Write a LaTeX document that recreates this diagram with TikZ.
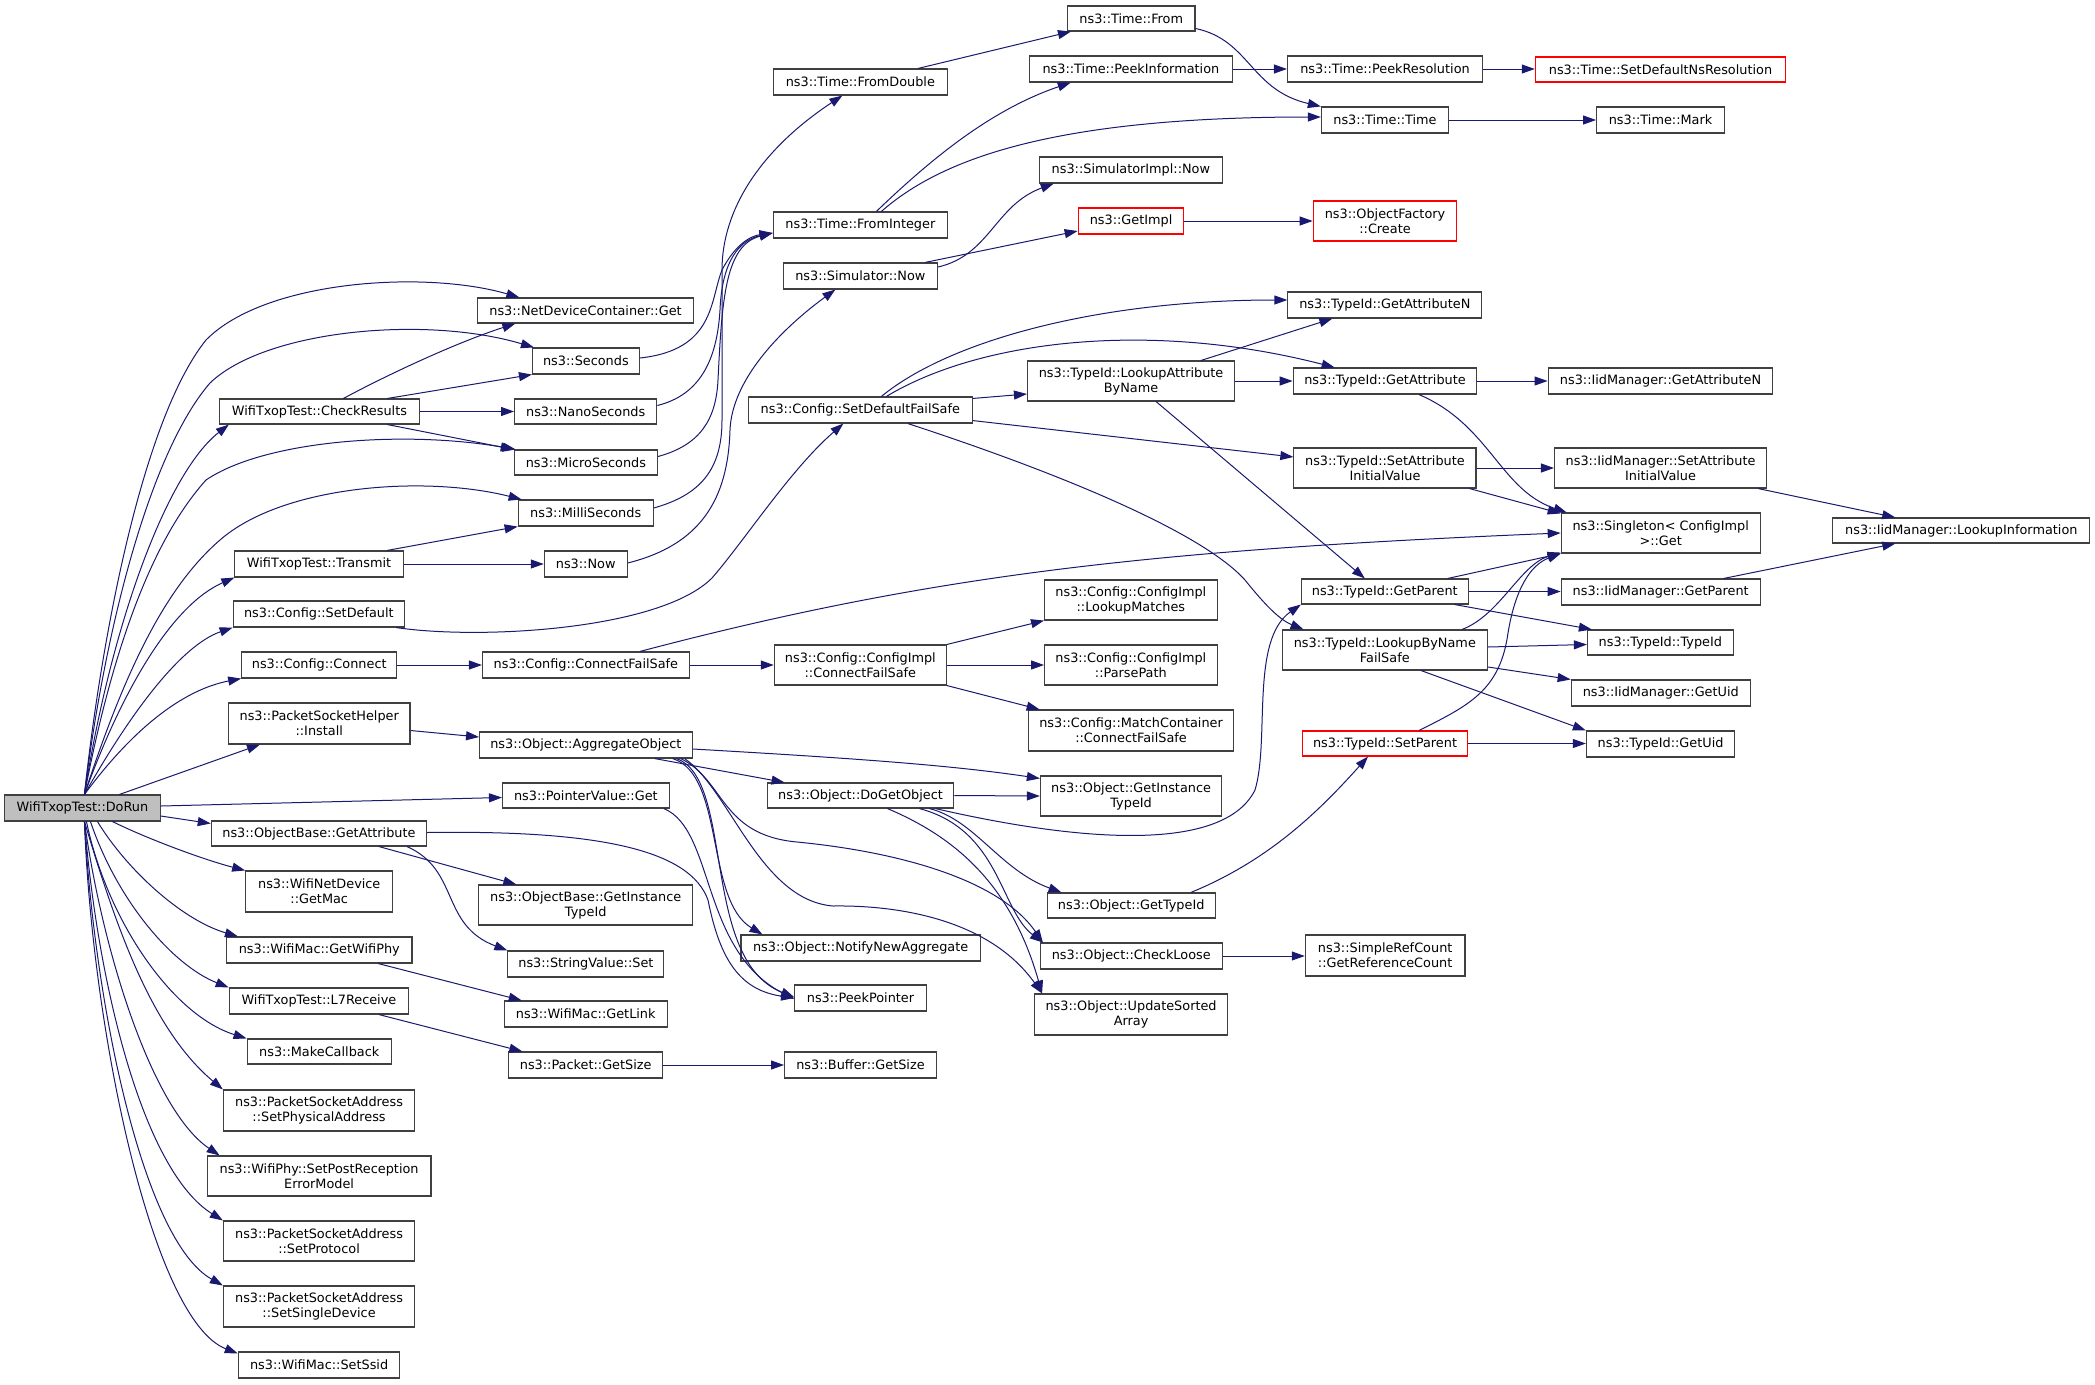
\documentclass[tikz,border=0pt]{standalone}
\usepackage{fontspec}
\setmainfont{DejaVu Sans}
\usetikzlibrary{arrows.meta}
\definecolor{edgec}{HTML}{191970}
\definecolor{nodeb}{HTML}{404040}
\definecolor{rootf}{HTML}{BFBFBF}
\newcommand\bx[7][]{\node[nbox,#1,minimum width={#5pt-#3pt},minimum height={#6pt-#4pt}] (#2) at ({(#3+#5)/2},{(#4+#6)/2}) {#7};}
\begin{document}
\begin{tikzpicture}[x=1pt,y=-1pt,
  nbox/.style={draw=nodeb,line width=1.1pt,fill=white,rectangle,inner sep=0pt,align=center,font=\fontsize{12.85}{15}\selectfont},
  rootbox/.style={fill=rootf},
  redbox/.style={draw=red},
  ce/.style={draw=edgec,line width=1pt,-{Triangle[length=13pt,width=9pt]}}]
\useasboundingbox[fill=white] (0,0) rectangle (2095,1384);
% ---------- nodes ----------
\bx[rootbox]{dorun}{4.7}{795}{160.2}{821}{WifiTxopTest::DoRun}
\bx{ndcget}{477.9}{298}{693.2}{323}{ns3::NetDeviceContainer::Get}
\bx{seconds}{532.5}{348}{639.3}{374}{ns3::Seconds}
\bx{ckr}{219.4}{399}{419.5}{424}{WifiTxopTest::CheckResults}
\bx{nano}{514.6}{399}{656.8}{424}{ns3::NanoSeconds}
\bx{micro}{514.3}{450}{657.5}{475}{ns3::MicroSeconds}
\bx{milli}{518.2}{500}{653.2}{526}{ns3::MilliSeconds}
\bx{transmit}{234.9}{551}{403.2}{577}{WifiTxopTest::Transmit}
\bx{now}{544.3}{551}{627.1}{577}{ns3::Now}
\bx{setdef}{233.2}{601}{404.6}{627}{ns3::Config::SetDefault}
\bx{connect}{241.7}{652}{396.8}{678}{ns3::Config::Connect}
\bx{confs}{482.5}{652}{689.3}{678}{ns3::Config::ConnectFailSafe}
\bx{install}{228.5}{703}{410}{744}{ns3::PacketSocketHelper\\::Install}
\bx{aggr}{479.6}{732}{692.1}{758}{ns3::Object::AggregateObject}
\bx{pvget}{502.5}{783}{669.3}{808}{ns3::PointerValue::Get}
\bx{obga}{211.3}{821}{426.6}{846}{ns3::ObjectBase::GetAttribute}
\bx{getmac}{245.7}{871}{392.8}{912}{ns3::WifiNetDevice\\::GetMac}
\bx{obgiti}{478.9}{885}{692.5}{925}{ns3::ObjectBase::GetInstance\\TypeId}
\bx{getwifiphy}{226.5}{937}{412}{963}{ns3::WifiMac::GetWifiPhy}
\bx{svset}{507.9}{951}{663.9}{977}{ns3::StringValue::Set}
\bx{l7}{229.2}{988}{408.6}{1014}{WifiTxopTest::L7Receive}
\bx{getlink}{504.3}{1001}{667.1}{1027}{ns3::WifiMac::GetLink}
\bx{mkcb}{247.1}{1039}{391.4}{1064}{ns3::MakeCallback}
\bx{pktsize}{508.9}{1052}{662.5}{1078}{ns3::Packet::GetSize}
\bx{bufsize}{784.6}{1052}{936.4}{1078}{ns3::Buffer::GetSize}
\bx{setphys}{223.4}{1090}{414.7}{1131}{ns3::PacketSocketAddress\\::SetPhysicalAddress}
\bx{setpost}{207.2}{1156}{431}{1196}{ns3::WifiPhy::SetPostReception\\ErrorModel}
\bx{setproto}{223.4}{1221}{414.7}{1261}{ns3::PacketSocketAddress\\::SetProtocol}
\bx{setsingle}{223.4}{1286}{414.7}{1327}{ns3::PacketSocketAddress\\::SetSingleDevice}
\bx{setssid}{238.3}{1352}{399.9}{1378}{ns3::WifiMac::SetSsid}
\bx{fromdouble}{773.2}{69}{947.5}{95}{ns3::Time::FromDouble}
\bx{fromint}{773.2}{212}{947.5}{238}{ns3::Time::FromInteger}
\bx{simnow}{783.2}{263}{937.5}{289}{ns3::Simulator::Now}
\bx{sdfs}{748.6}{397}{972.1}{423}{ns3::Config::SetDefaultFailSafe}
\bx{cicfs}{774.3}{645}{946.4}{685}{ns3::Config::ConfigImpl\\::ConnectFailSafe}
\bx{dgo}{767.1}{783}{953.9}{808}{ns3::Object::DoGetObject}
\bx{nna}{741}{935}{980.3}{961}{ns3::Object::NotifyNewAggregate}
\bx{peek}{794.6}{985}{926.4}{1011}{ns3::PeekPointer}
\bx{timefrom}{1067.5}{6}{1195}{31}{ns3::Time::From}
\bx{peekinfo}{1029.3}{56}{1232.5}{82}{ns3::Time::PeekInformation}
\bx{peekres}{1287.5}{56}{1482.5}{82}{ns3::Time::PeekResolution}
\bx[redbox]{setdefns}{1535.3}{57}{1785.7}{82}{ns3::Time::SetDefaultNsResolution}
\bx{timetime}{1321.4}{107}{1448.6}{133}{ns3::Time::Time}
\bx{mark}{1596.6}{107}{1724.4}{133}{ns3::Time::Mark}
\bx{simimpl}{1039.3}{157}{1222.5}{183}{ns3::SimulatorImpl::Now}
\bx[redbox]{getimpl}{1078.2}{208}{1183.9}{234}{ns3::GetImpl}
\bx[redbox]{ofcreate}{1313.2}{201}{1456.8}{241}{ns3::ObjectFactory\\::Create}
\bx{tgan}{1287.9}{292}{1481.8}{318}{ns3::TypeId::GetAttributeN}
\bx{lab}{1027.5}{361}{1234.6}{401}{ns3::TypeId::LookupAttribute\\ByName}
\bx{tga}{1293.2}{368}{1476.8}{394}{ns3::TypeId::GetAttribute}
\bx{iigan}{1548.1}{368}{1772.9}{394}{ns3::IidManager::GetAttributeN}
\bx{tsaiv}{1293.9}{448}{1476}{488}{ns3::TypeId::SetAttribute\\InitialValue}
\bx{isaiv}{1554.5}{448}{1766.6}{488}{ns3::IidManager::SetAttribute\\InitialValue}
\bx{single}{1561.2}{513}{1760.2}{553}{ns3::Singleton< ConfigImpl\\>::Get}
\bx{lookinfo}{1832.8}{518}{2089.8}{543}{ns3::IidManager::LookupInformation}
\bx{lm}{1044.6}{580}{1217.1}{620}{ns3::Config::ConfigImpl\\::LookupMatches}
\bx{tgp}{1301.4}{579}{1468.2}{604}{ns3::TypeId::GetParent}
\bx{igp}{1561.2}{579}{1760.2}{605}{ns3::IidManager::GetParent}
\bx{lbnfs}{1282.1}{630}{1487.5}{670}{ns3::TypeId::LookupByName\\FailSafe}
\bx{ttid}{1587.4}{630}{1733.3}{655}{ns3::TypeId::TypeId}
\bx{pp}{1044.6}{645}{1217.1}{685}{ns3::Config::ConfigImpl\\::ParsePath}
\bx{iguid}{1571.2}{680}{1750.3}{706}{ns3::IidManager::GetUid}
\bx{mccfs}{1028.2}{710}{1233.9}{751}{ns3::Config::MatchContainer\\::ConnectFailSafe}
\bx[redbox]{setparent}{1302.1}{731}{1467.9}{756}{ns3::TypeId::SetParent}
\bx{tguid}{1586.4}{731}{1734.7}{757}{ns3::TypeId::GetUid}
\bx{ogiti}{1040.4}{776}{1221.8}{816}{ns3::Object::GetInstance\\TypeId}
\bx{ogtid}{1047.1}{893}{1215.3}{918}{ns3::Object::GetTypeId}
\bx{cl}{1040.4}{943}{1222.1}{969}{ns3::Object::CheckLoose}
\bx{usa}{1034.6}{994}{1227.5}{1035}{ns3::Object::UpdateSorted\\Array}
\bx{grc}{1305.3}{935}{1465}{976}{ns3::SimpleRefCount\\::GetReferenceCount}
% ---------- edges from DoRun ----------
\draw[ce] ([xshift=2pt]dorun.north) .. controls (101,640) and (142,420) .. (206,340) .. controls (265,280) and (425,270) .. ([xshift=42pt]ndcget.north west);
\draw[ce] ([xshift=2pt]dorun.north) .. controls (106,620) and (152,450) .. (210,383) .. controls (265,330) and (425,315) .. ([xshift=2pt]seconds.north west);
\draw[ce] ([xshift=2pt]dorun.north) .. controls (112,620) and (168,472) .. ([xshift=10pt]ckr.south west);
\draw[ce] ([xshift=2pt]dorun.north) .. controls (112,650) and (152,540) .. (206,480) .. controls (265,440) and (405,430) .. ([xshift=2pt]micro.north west);
\draw[ce] ([xshift=2pt]dorun.north) .. controls (122,680) and (162,590) .. (220,540) .. controls (283,485) and (425,475) .. ([xshift=4pt]milli.north west);
\draw[ce] ([xshift=2pt]dorun.north) .. controls (122,690) and (172,605) .. (transmit.south west);
\draw[ce] ([xshift=2pt]dorun.north) .. controls (132,710) and (182,645) .. (setdef.south west);
\draw[ce] ([xshift=2pt]dorun.north) .. controls (132,730) and (182,690) .. (connect.south west);
\draw[ce] ([xshift=37pt]dorun.north) -- ([xshift=32pt]install.south west);
\draw[ce] ([yshift=2pt]dorun.east) -- ([yshift=-2pt]pvget.west);
\draw[ce] ([yshift=-8pt]dorun.east) -- ([yshift=10pt]obga.west);
\draw[ce] ([xshift=30pt]dorun.south) .. controls (150,840) and (205,860) .. (getmac.north west);
\draw[ce] ([xshift=15pt]dorun.south) .. controls (127,870) and (182,920) .. ([xshift=12pt]getwifiphy.north west);
\draw[ce] ([xshift=8pt]dorun.south) .. controls (117,900) and (172,965) .. (l7.north west);
\draw[ce] ([xshift=4pt]dorun.south) .. controls (107,920) and (172,1015) .. (mkcb.north west);
\draw[ce] ([xshift=2pt]dorun.south) .. controls (117,930) and (152,1030) .. (setphys.north west);
\draw[ce] ([xshift=2pt]dorun.south) .. controls (102,950) and (152,1110) .. ([xshift=13pt]setpost.north west);
\draw[ce] ([xshift=2pt]dorun.south) .. controls (97,980) and (142,1170) .. (setproto.north west);
\draw[ce] ([xshift=2pt]dorun.south) .. controls (94,1000) and (142,1240) .. (setsingle.north west);
\draw[ce] ([xshift=2pt]dorun.south) .. controls (92,1030) and (152,1320) .. ([yshift=-2pt]setssid.north west);
% ---------- CheckResults / Transmit ----------
\draw[ce] ([xshift=24pt]ckr.north) .. controls (385,376) and (455,343) .. ([xshift=38pt]ndcget.south west);
\draw[ce] ([xshift=68pt]ckr.north) -- (seconds.south west);
\draw[ce] (ckr.east) -- (nano.west);
\draw[ce] ([xshift=68pt]ckr.south) -- (micro.north west);
\draw[ce] ([xshift=68pt]transmit.north) -- (milli.south west);
\draw[ce] (transmit.east) -- (now.west);
% ---------- time conversions ----------
\draw[ce] ([yshift=3pt]seconds.east) .. controls (715,350) and (710,300) .. (722,270) .. controls (735,245) and (750,236) .. ([yshift=-8pt]fromint.west);
\draw[ce] ([yshift=6pt]nano.east) .. controls (700,395) and (717,360) .. (720,310) .. controls (722,260) and (740,240) .. ([yshift=-8pt]fromint.west);
\draw[ce] ([yshift=6pt]micro.east) .. controls (700,445) and (716,420) .. (718,380) .. controls (722,300) and (725,245) .. ([yshift=-8pt]fromint.west);
\draw[ce] ([yshift=5pt]milli.east) .. controls (700,495) and (722,470) .. (722,420) -- (722,270) .. controls (722,210) and (760,150) .. ([xshift=-18pt]fromdouble.south);
\draw[ce] ([yshift=1pt]now.east) .. controls (700,545) and (728,500) .. (730,430) .. controls (732,380) and (780,330) .. ([xshift=-25pt]simnow.south);
\draw[ce] ([xshift=-30pt]fromdouble.north east) -- ([xshift=4pt]timefrom.south west);
\draw[ce] ([xshift=16pt]fromint.north) .. controls (930,160) and (990,110) .. ([xshift=42pt]peekinfo.south west);
\draw[ce] ([xshift=21pt]fromint.north) .. controls (940,160) and (1050,117) .. ([yshift=3pt]timetime.west);
\draw[ce] ([yshift=-10pt]timefrom.east) .. controls (1250,40) and (1250,90) .. (timetime.north west);
\draw[ce] (peekinfo.east) -- (peekres.west);
\draw[ce] (peekres.east) -- (peekres.east -| setdefns.west);
\draw[ce] (timetime.east) -- (mark.west);
\draw[ce] ([yshift=9pt]simnow.east) .. controls (990,255) and (995,205) .. ([xshift=15pt]simimpl.south west);
\draw[ce] ([xshift=-13pt]simnow.north east) -- ([yshift=-10pt]getimpl.west);
\draw[ce] (getimpl.east) -- (ofcreate.west);
% ---------- Config ----------
\draw[ce] ([xshift=-9pt]setdef.south east) .. controls (480,640) and (660,630) .. (712,578) .. controls (745,540) and (790,470) .. ([xshift=-17pt]sdfs.south);
\draw[ce] (connect.east) -- (confs.west);
\draw[ce] (confs.east) -- (cicfs.west);
\draw[ce] ([xshift=54pt]confs.north) .. controls (930,575) and (1150,550) .. (single.west);
\draw[ce] (cicfs.north east) -- (lm.south west);
\draw[ce] (cicfs.east) -- (pp.west);
\draw[ce] (cicfs.south east) -- ([xshift=12pt]mccfs.north west);
\draw[ce] ([xshift=21pt]sdfs.north) .. controls (950,340) and (1100,300) .. ([yshift=5pt]tgan.west);
\draw[ce] ([xshift=26pt]sdfs.north) .. controls (980,340) and (1150,320) .. ([xshift=42pt]tga.north west);
\draw[ce] ([yshift=-2pt]sdfs.north east) -- ([yshift=-13pt]lab.west);
\draw[ce] ([yshift=3pt]sdfs.south east) -- ([yshift=11pt]tsaiv.west);
\draw[ce] ([xshift=47.5pt]sdfs.south) .. controls (1050,470) and (1200,530) .. (1245,580) .. controls (1265,605) and (1280,620) .. ([xshift=22pt]lbnfs.north west);
% ---------- TypeId ----------
\draw[ce] ([xshift=70pt]lab.north) -- ([xshift=45pt]tgan.south west);
\draw[ce] (lab.east) -- (tga.west);
\draw[ce] ([xshift=25pt]lab.south) -- ([xshift=-20pt]tgp.north);
\draw[ce] (tga.east) -- (iigan.west);
\draw[ce] ([xshift=34pt]tga.south) .. controls (1490,425) and (1500,490) .. ([xshift=6pt]single.north west);
\draw[ce] (tsaiv.east) -- (isaiv.west);
\draw[ce] ([xshift=-7pt]tsaiv.south east) -- ([yshift=-1pt]single.north west);
\draw[ce] ([xshift=-9pt]isaiv.south east) -- ([xshift=-66pt]lookinfo.north);
\draw[ce] ([xshift=63pt]igp.north) -- ([xshift=-66pt]lookinfo.south);
\draw[ce] ([xshift=-21pt]tgp.north east) -- (single.south west);
\draw[ce] (tgp.east) -- (tgp.east -| igp.west);
\draw[ce] ([xshift=-14pt]tgp.south east) -- ([xshift=5pt]ttid.north west);
\draw[ce] ([xshift=-26pt]lbnfs.north east) .. controls (1500,615) and (1520,565) .. ([yshift=1pt]single.south west);
\draw[ce] ([yshift=3pt]lbnfs.east) -- ([yshift=-2pt]ttid.west);
\draw[ce] ([yshift=-17pt]lbnfs.east) -- (iguid.north west);
\draw[ce] ([xshift=-67pt]lbnfs.south east) -- (tguid.north west);
\draw[ce] ([xshift=34pt]setparent.north) .. controls (1470,705) and (1500,690) .. (1508,633) .. controls (1515,590) and (1530,565) .. (single.south west);
\draw[ce] (setparent.east) -- (setparent.east -| tguid.west);
% ---------- Object ----------
\draw[ce] ([yshift=-7pt]install.east) -- ([yshift=8pt]aggr.west);
\draw[ce] ([yshift=-4pt]aggr.east) .. controls (850,758) and (950,765) .. ([yshift=-3pt]ogiti.north west);
\draw[ce] ([xshift=-38pt]aggr.south east) -- ([xshift=18pt]dgo.north west);
\draw[ce] ([xshift=-20pt]aggr.south east) .. controls (725,775) and (705,900) .. ([xshift=22pt]nna.north west);
\draw[ce] ([xshift=-16pt]aggr.south east) .. controls (735,780) and (700,960) .. ([yshift=1pt]peek.west);
\draw[ce] ([xshift=-12pt]aggr.south east) .. controls (725,780) and (720,835) .. (797,842) .. controls (900,852) and (1000,880) .. ([xshift=3pt]cl.north west);
\draw[ce] ([xshift=-8pt]aggr.south east) .. controls (730,790) and (760,900) .. (833,906) .. controls (900,905) and (990,920) .. ([xshift=8pt]usa.north west);
\draw[ce] (dgo.east) -- (ogiti.west);
\draw[ce] ([xshift=-19pt]dgo.south east) .. controls (1050,835) and (1220,860) .. (1255,790) .. controls (1270,740) and (1250,640) .. (tgp.south west);
\draw[ce] ([xshift=-25pt]dgo.south east) .. controls (975,820) and (1000,870) .. ([xshift=15pt]ogtid.north west);
\draw[ce] ([xshift=-35pt]dgo.south east) .. controls (1000,830) and (1000,910) .. ([xshift=3pt]cl.north west);
\draw[ce] ([xshift=-67pt]dgo.south east) .. controls (950,835) and (1010,880) .. ([xshift=8pt]usa.north west);
\draw[ce] ([xshift=-25pt]ogtid.north east) .. controls (1270,860) and (1320,810) .. ([xshift=-17pt]setparent.south);
\draw[ce] (cl.east) -- (cl.east -| grc.west);
% ---------- ObjectBase / misc ----------
\draw[ce] ([yshift=1pt]obga.east) .. controls (600,830) and (690,850) .. (708,900) .. controls (720,960) and (740,990) .. (peek.west);
\draw[ce] ([xshift=60pt]obga.south) -- ([xshift=38pt]obgiti.north west);
\draw[ce] ([xshift=88pt]obga.south) .. controls (460,870) and (440,925) .. (svset.north west);
\draw[ce] ([xshift=-6pt]pvget.south east) .. controls (715,830) and (700,950) .. ([yshift=-1pt]peek.west);
\draw[ce] ([xshift=59pt]getwifiphy.south) -- ([xshift=18pt]getlink.north west);
\draw[ce] ([xshift=60pt]l7.south) -- ([xshift=14pt]pktsize.north west);
\draw[ce] (pktsize.east) -- (bufsize.west);
\end{tikzpicture}
\end{document}
